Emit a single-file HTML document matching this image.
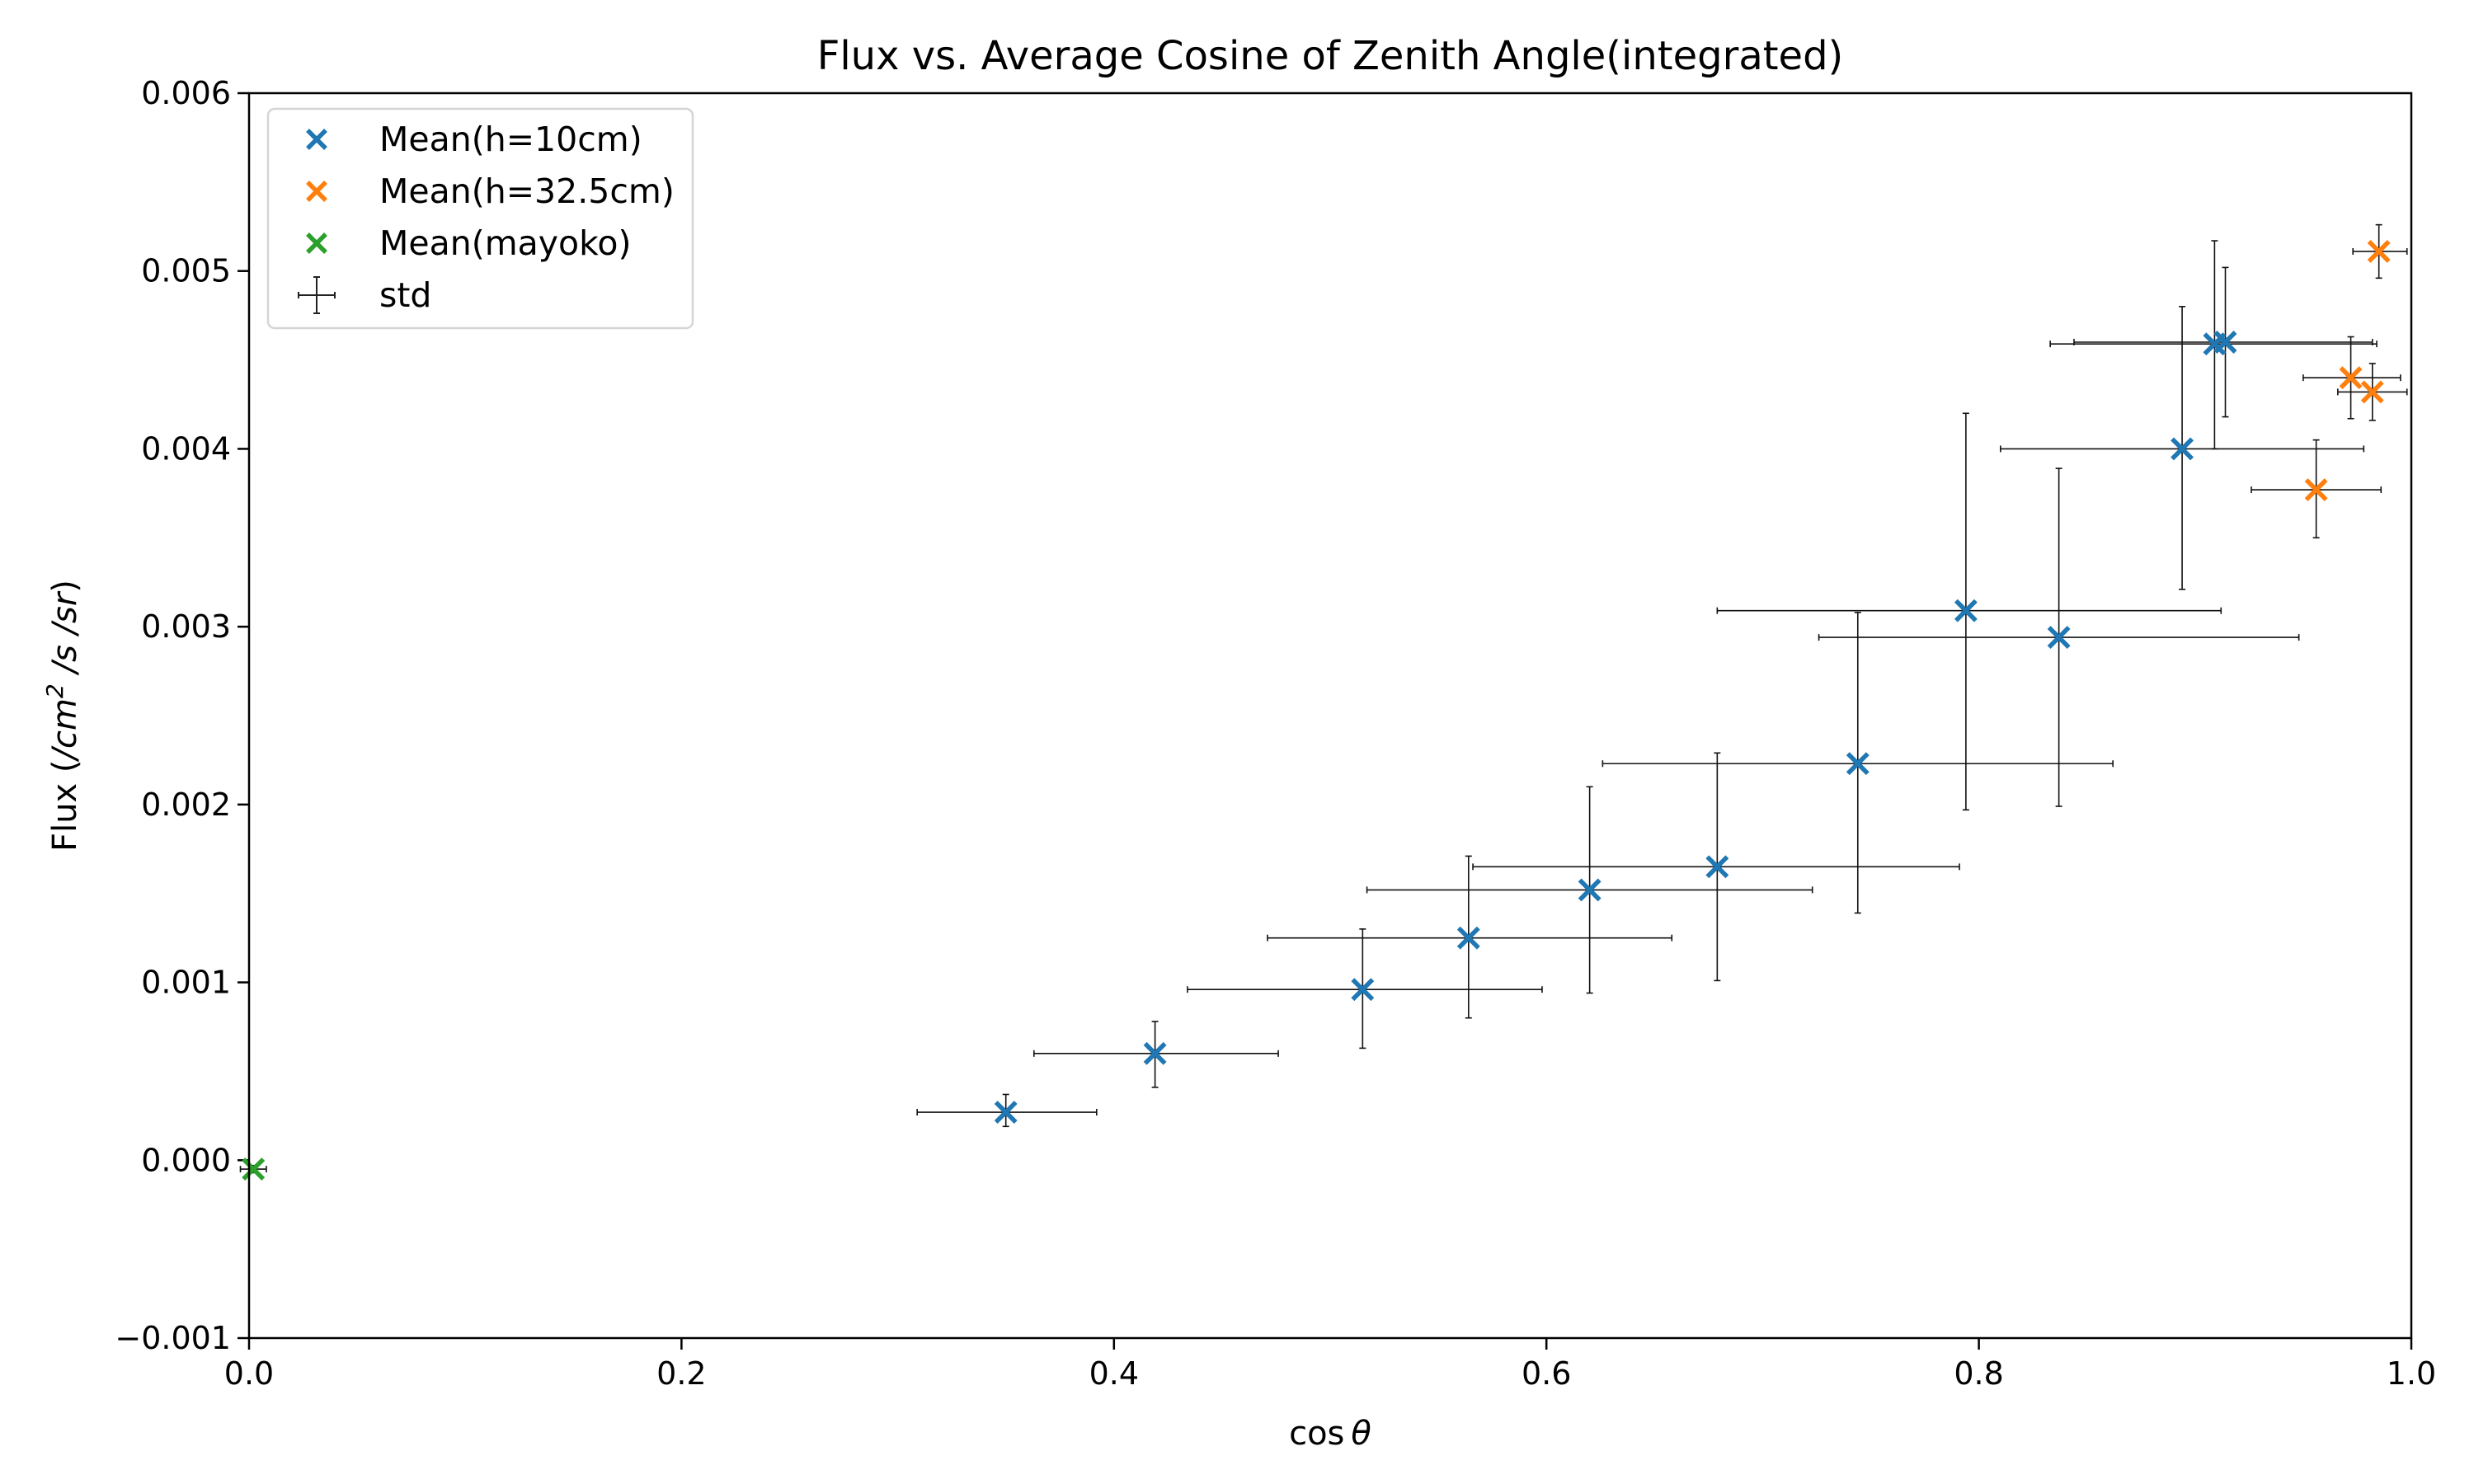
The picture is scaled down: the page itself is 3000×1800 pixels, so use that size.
<!DOCTYPE html>
<html><head><meta charset="utf-8"><style>
html,body{margin:0;padding:0;background:#fff;}
svg{display:block;font-family:"DejaVu Sans","Liberation Sans",sans-serif;}
</style></head><body>
<svg id="chart" width="3000" height="1800" viewBox="0 0 3000 1800" xmlns="http://www.w3.org/2000/svg">
<rect width="3000" height="1800" fill="#fff"/>
<text x="1613" y="84" font-size="48" text-anchor="middle">Flux vs. Average Cosine of Zenith Angle(integrated)</text>
<g id="axes"></g>
<g id="err"></g>
<g id="marks"></g>
<rect x="302" y="113" width="2622" height="1510" fill="none" stroke="#000" stroke-width="2.5"/>
<text x="1613" y="1752" font-size="40" text-anchor="middle">cos<tspan font-style="italic" dx="8">θ</tspan></text>
<text transform="translate(92,868) rotate(-90)" font-size="40" text-anchor="middle">Flux (<tspan font-style="italic">/cm</tspan><tspan font-size="28" dy="-16" font-style="italic">2</tspan><tspan dy="16" font-style="italic"> /s /sr</tspan>)</text>
<g>
<rect x="325" y="132" width="515" height="266" rx="8" fill="#fff" stroke="#d5d5d5" stroke-width="2.5"/>
<g id="legend-items"></g>
</g>
</svg>
<script>
const blueX=[0.350,0.419,0.515,0.564,0.620,0.679,0.744,0.794,0.837,0.894,0.909,0.914];
const blueY=[0.00027,0.00060,0.00096,0.00125,0.00152,0.00165,0.00223,0.00309,0.00294,0.00400,0.00459,0.00460];
const blueXLo=[0.309,0.363,0.434,0.471,0.517,0.566,0.626,0.679,0.726,0.810,0.833,0.844];
const blueXHi=[0.392,0.476,0.598,0.658,0.723,0.791,0.862,0.912,0.948,0.978,0.984,0.982];
const blueYLo=[0.00019,0.00041,0.00063,0.00080,0.00094,0.00101,0.00139,0.00197,0.00199,0.00321,0.00400,0.00418];
const blueYHi=[0.00037,0.00078,0.00130,0.00171,0.00210,0.00229,0.00308,0.00420,0.00389,0.00480,0.00517,0.00502];
const orangeX=[0.985,0.972,0.982,0.956];
const orangeY=[0.00511,0.00440,0.00432,0.00377];
const orangeXLo=[0.973,0.950,0.966,0.926];
const orangeXHi=[0.998,0.995,0.998,0.986];
const orangeYLo=[0.00496,0.00417,0.00416,0.00350];
const orangeYHi=[0.00526,0.00463,0.00448,0.00405];
const greenX=[0.002];
const greenY=[-0.00005];
const greenXLo=[-0.004];
const greenXHi=[0.008];
const greenYLo=[-0.00007];
const greenYHi=[-0.00003];
const xTicks=[0,0.2,0.4,0.6,0.8,1.0];
const xTickLabels=["0.0","0.2","0.4","0.6","0.8","1.0"];
const yTicks=[-0.001,0,0.001,0.002,0.003,0.004,0.005,0.006];
const yTickLabels=["\u22120.001","0.000","0.001","0.002","0.003","0.004","0.005","0.006"];

const L=302,R=2924,T=113,B=1623;
const xs=v=>L+(v-0)/(1-0)*(R-L);
const ys=v=>B-(v+0.001)/(0.007)*(B-T);
const NS="http://www.w3.org/2000/svg";
function mk(tag,attrs,parent){const e=document.createElementNS(NS,tag);for(const k in attrs)e.setAttribute(k,attrs[k]);parent.appendChild(e);return e;}
const axes=document.getElementById('axes');
const err=document.getElementById('err');
const marks=document.getElementById('marks');

xTicks.forEach((t,i)=>{
  const g=mk('g',{},axes);
  
  
  mk('line',{x1:xs(t),x2:xs(t),y1:B,y2:B+14,stroke:'#000','stroke-width':2.5},g);
  const tx=mk('text',{x:xs(t),y:B+56,'font-size':38,'text-anchor':'middle'},g);
  tx.textContent=xTickLabels[i];
});
yTicks.forEach((t,i)=>{
  const g=mk('g',{},axes);
  
  
  mk('line',{x1:L-14,x2:L,y1:ys(t),y2:ys(t),stroke:'#000','stroke-width':2.5},g);
  const tx=mk('text',{x:L-22,y:ys(t)+13,'font-size':38,'text-anchor':'end'},g);
  tx.textContent=yTickLabels[i];
});

function drawErr(X,Y,XL,XH,YL,YH,name){
  X.forEach((x,i)=>{
    const g=mk('g',{stroke:'#111','stroke-width':1.6},err);
    
    
    mk('line',{x1:xs(XL[i]),x2:xs(XH[i]),y1:ys(Y[i]),y2:ys(Y[i])},g);
    mk('line',{x1:xs(x),x2:xs(x),y1:ys(YL[i]),y2:ys(YH[i])},g);
    [XL[i],XH[i]].forEach(v=>mk('line',{x1:xs(v),x2:xs(v),y1:ys(Y[i])-4,y2:ys(Y[i])+4},g));
    [YL[i],YH[i]].forEach(v=>mk('line',{x1:xs(x)-4,x2:xs(x)+4,y1:ys(v),y2:ys(v)},g));
  });
}
function drawX(cx,cy,color,parent,s){
  mk('path',{d:`M${cx-s},${cy-s}L${cx+s},${cy+s}M${cx-s},${cy+s}L${cx+s},${cy-s}`,stroke:color,'stroke-width':5.5,fill:'none'},parent);
}
function drawPts(X,Y,color,name){
  X.forEach((x,i)=>{
    const g=mk('g',{},marks);
    
    
    drawX(xs(x),ys(Y[i]),color,g,12);
  });
}
drawErr(blueX,blueY,blueXLo,blueXHi,blueYLo,blueYHi,'h10');
drawErr(orangeX,orangeY,orangeXLo,orangeXHi,orangeYLo,orangeYHi,'h325');
drawErr(greenX,greenY,greenXLo,greenXHi,greenYLo,greenYHi,'mayoko');
drawPts(blueX,blueY,'#1f77b4','h10');
drawPts(orangeX,orangeY,'#ff7f0e','h325');
drawPts(greenX,greenY,'#2ca02c','mayoko');

const li=document.getElementById('legend-items');
const legNames=["Mean(h=10cm)","Mean(h=32.5cm)","Mean(mayoko)","std"];
const legColors=['#1f77b4','#ff7f0e','#2ca02c',null];
legNames.forEach((n,i)=>{
  const y=169+i*63;
  const g=mk('g',{},li);
  
  
  if(legColors[i]) drawX(384,y,legColors[i],g,11);
  else{
    const e=mk('g',{stroke:'#222','stroke-width':2},g);
    mk('line',{x1:362,x2:406,y1:y,y2:y},e);
    mk('line',{x1:384,x2:384,y1:y-22,y2:y+22},e);
    mk('line',{x1:362,x2:362,y1:y-4,y2:y+4},e);
    mk('line',{x1:406,x2:406,y1:y-4,y2:y+4},e);
    mk('line',{x1:380,x2:388,y1:y-22,y2:y-22},e);
    mk('line',{x1:380,x2:388,y1:y+22,y2:y+22},e);
  }
  const t=mk('text',{x:460,y:y+14,'font-size':41},g);
  t.textContent=n;
});
</script>
</body></html>
